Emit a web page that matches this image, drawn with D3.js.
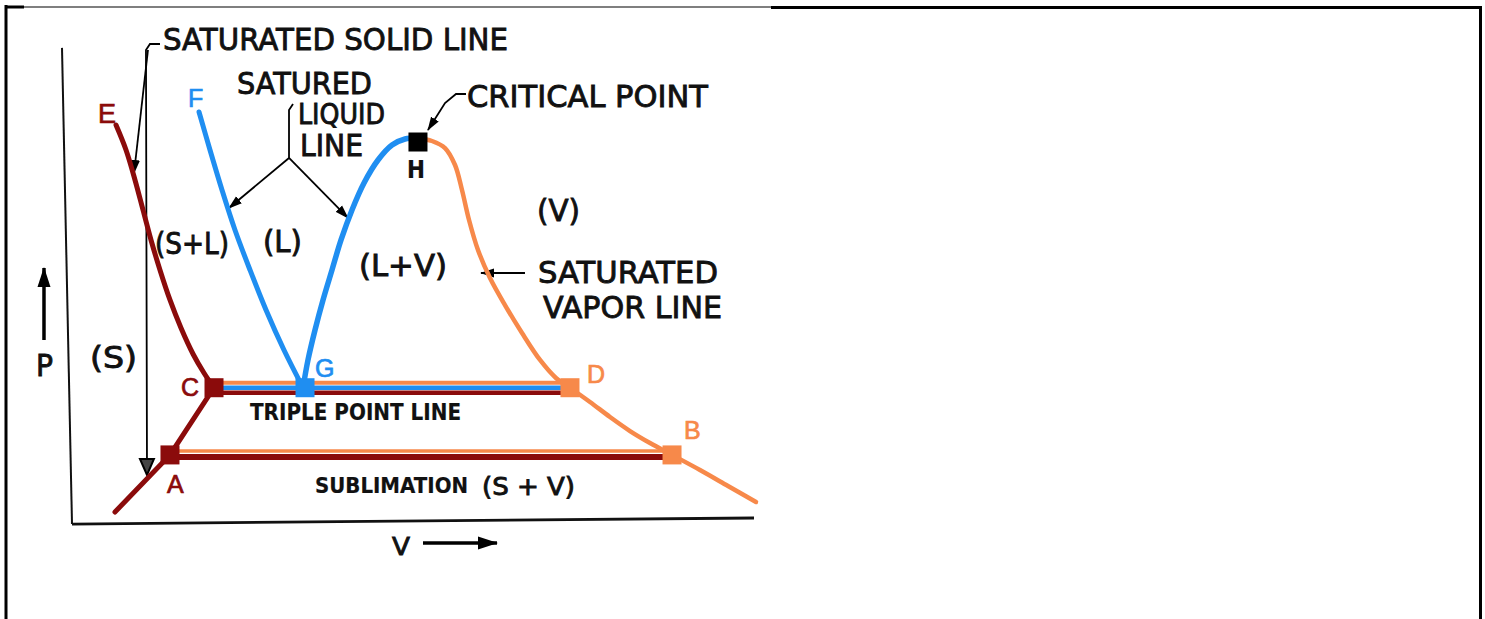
<!DOCTYPE html>
<html><head><meta charset="utf-8">
<script src="https://cdn.jsdelivr.net/npm/d3@7"></script>
<style>html,body{margin:0;padding:0;background:#fff;} svg{display:block}</style>
</head><body><svg id="c" width="1485" height="619"></svg>
<script>
// ---------- DATA (V, P in arbitrary diagram units, 0..100) ----------
const solidV   = [6.67, 8.12, 9.42, 10.58, 11.74, 13.04, 14.49, 16.09, 17.83, 19.42, 20.87];
const solidP   = [83.33, 78.13, 71.88, 65.63, 59.38, 53.13, 46.88, 41.04, 35.63, 31.67, 28.6];
const lowSolidV = [20.87, 14.49, 6.52];
const lowSolidP = [28.6, 14.6, 2.71];
const liquidV  = [18.70, 20.29, 22.03, 23.91, 26.09, 28.41, 31.01, 33.77];
const liquidP  = [86.04, 78.13, 69.79, 61.46, 53.13, 44.79, 36.46, 28.6];
const domeLV   = [33.77, 34.49, 35.51, 36.67, 37.97, 39.28, 40.87, 42.61, 44.64, 46.67, 48.55, 50.43];
const domeLP   = [28.6, 34.38, 40.63, 46.88, 53.13, 59.38, 65.63, 71.25, 76.04, 79.17, 80.42, 80.63];
const vaporV   = [50.43, 52.46, 54.35, 55.80, 56.81, 57.83, 59.13, 60.87, 63.04, 65.51, 68.12, 70.43, 72.46];
const vaporP   = [80.63, 80.0, 78.54, 75.0, 69.79, 63.54, 57.29, 51.46, 45.83, 40.0, 34.38, 30.63, 28.6];
const lowVapV  = [72.46, 75.36, 78.26, 81.16, 84.06, 87.25, 91.30, 95.36, 99.42];
const lowVapP  = [28.6, 25.63, 22.50, 19.58, 17.08, 14.6, 11.46, 8.13, 4.79];
const tripleP  = 28.6;
const tripleV  = [20.87, 72.46];
const sublimP  = 14.6;
const sublimV  = [14.49, 87.25];
const pointNames = ["A", "B", "C", "D", "G", "H"];
const pointV     = [14.49, 87.25, 20.87, 72.46, 34.06, 50.43];
const pointP     = [14.6, 14.6, 28.6, 28.6, 28.6, 79.79];
const pointColor = ["red", "orange", "red", "orange", "blue", "black"];
// letter labels
const letterText = ["E", "F", "C", "G", "D", "B", "A"];
const letterV    = [4.06, 17.10, 16.09, 35.51, 74.93, 88.99, 14.06];
const letterP    = [83.75, 87.08, 26.88, 30.83, 29.58, 17.92, 6.67];
const letterColor = ["red", "blue", "red", "blue", "orange", "orange", "red"];
// annotation texts
const noteText = ["SATURATED SOLID LINE", "SATURED", "LIQUID", "LINE", "CRITICAL POINT", "(V)", "(L+V)",
  "SATURATED", "VAPOR LINE", "(S+L)", "(L)", "(S)", "P", "TRIPLE POINT LINE", "SUBLIMATION", "(S + V)", "V", "H"];
const noteV = [13.48, 24.20, 33.04, 33.33, 57.54, 67.68, 41.88, 67.83, 68.55, 12.32, 27.97, 2.90, -4.93, 26.09, 35.51, 59.71, 46.67, 48.84];
const noteP = [98.96, 89.79, 83.54, 76.88, 87.08, 63.33, 51.88, 50.42, 43.13, 56.46, 56.88, 32.71, 31.04, 21.88, 6.67, 6.25, -6.25, 72.29];
// axes and leaders (V,P pairs)
const yAxisLine = [[-1.16, 99.4], [0.29, 0.2]];
const xAxisLine = [[0.29, 0.2], [99.13, 1.46]];
const leaders = [
  {pts: [[13.04, 100.21], [11.59, 100.21], [11.01, 98.96], [11.16, 10.42]], head: "open"},
  {pts: [[11.30, 98.96], [9.28, 73.33]], head: "fill"},
  {pts: [[32.32, 87.71], [31.74, 86.46], [31.74, 76.46]], head: null},
  {pts: [[31.74, 76.46], [23.04, 66.04]], head: "fill"},
  {pts: [[31.74, 76.46], [40.29, 63.96]], head: "fill"},
  {pts: [[57.39, 89.79], [55.94, 89.79], [54.35, 87.92], [51.88, 82.29]], head: "fill"},
  {pts: [[65.94, 52.5], [59.57, 52.5]], head: "fill"},
  {pts: [[-3.77, 38.54], [-3.77, 53.54]], head: "big"},
  {pts: [[51.16, -3.75], [61.88, -3.75]], head: "big"}
];

// ---------- DRAWING ----------
const COL = {red: "#8b0b0b", blue: "#1f8ef1", orange: "#f7894a", black: "#000"};
const svg = d3.select("#c");
const W = 1485, H = 619;
svg.append("rect").attr("width", W).attr("height", H).attr("fill", "#fff");

// frame
svg.append("line").attr("x1", 6).attr("y1", 5).attr("x2", 6).attr("y2", H).attr("stroke", "#000").attr("stroke-width", 3);
svg.append("line").attr("x1", 5).attr("y1", 7).attr("x2", 24).attr("y2", 7).attr("stroke", "#000").attr("stroke-width", 3);
svg.append("line").attr("x1", 24).attr("y1", 7).attr("x2", 771).attr("y2", 7).attr("stroke", "#000").attr("stroke-width", 1.2);
svg.append("line").attr("x1", 771).attr("y1", 7.5).attr("x2", 1482).attr("y2", 7.5).attr("stroke", "#000").attr("stroke-width", 3);
svg.append("line").attr("x1", 1480.5).attr("y1", 6).attr("x2", 1480.5).attr("y2", H).attr("stroke", "#000").attr("stroke-width", 3);

const x = d3.scaleLinear().domain([0, 100]).range([70, 760]);
const y = d3.scaleLinear().domain([0, 100]).range([525, 45]);

const defs = svg.append("defs");
defs.append("marker").attr("id", "fill").attr("viewBox", "0 -5 14 10").attr("refX", 13).attr("refY", 0)
  .attr("markerWidth", 14).attr("markerHeight", 10).attr("markerUnits", "userSpaceOnUse").attr("orient", "auto")
  .append("path").attr("d", "M0,-4.5L14,0L0,4.5Z").attr("fill", "#000");
defs.append("marker").attr("id", "big").attr("viewBox", "0 -7 20 14").attr("refX", 19).attr("refY", 0)
  .attr("markerWidth", 20).attr("markerHeight", 14).attr("markerUnits", "userSpaceOnUse").attr("orient", "auto")
  .append("path").attr("d", "M0,-6.5L20,0L0,6.5Z").attr("fill", "#000");
defs.append("marker").attr("id", "open").attr("viewBox", "-1 -9 19 18").attr("refX", 16).attr("refY", 0)
  .attr("markerWidth", 19).attr("markerHeight", 18).attr("markerUnits", "userSpaceOnUse").attr("orient", "auto")
  .append("path").attr("d", "M0,-7L16,0L0,7Z").attr("fill", "#444").attr("stroke", "#000").attr("stroke-width", 2);

const lin = d3.line().x(d => x(d[0])).y(d => y(d[1]));
const smooth = d3.line().x(d => x(d[0])).y(d => y(d[1])).curve(d3.curveCatmullRom.alpha(0.5));

// axes
svg.append("path").attr("d", lin(yAxisLine)).attr("stroke", "#111").attr("stroke-width", 2).attr("fill", "none");
svg.append("path").attr("d", lin(xAxisLine)).attr("stroke", "#111").attr("stroke-width", 2.8).attr("fill", "none");

// leaders
leaders.forEach(l => {
  const p = svg.append("path").attr("d", lin(l.pts)).attr("stroke", "#000")
    .attr("stroke-width", l.head === "big" ? 3.5 : 1.8).attr("fill", "none");
  if (l.head) p.attr("marker-end", `url(#${l.head})`);
});

// triple point line: three stacked strokes
const tri = [[tripleV[0], tripleP], [tripleV[1], tripleP]];
svg.append("path").attr("d", lin(tri)).attr("transform", "translate(0,-5)").attr("stroke", COL.orange).attr("stroke-width", 4).attr("fill", "none");
svg.append("path").attr("d", lin(tri)).attr("transform", "translate(0,5)").attr("stroke", COL.red).attr("stroke-width", 4.5).attr("fill", "none");
svg.append("path").attr("d", lin(tri)).attr("stroke", COL.blue).attr("stroke-width", 4.5).attr("fill", "none");

// sublimation line
const sub = [[sublimV[0], sublimP], [sublimV[1], sublimP]];
svg.append("path").attr("d", lin(sub)).attr("transform", "translate(0,-4)").attr("stroke", COL.orange).attr("stroke-width", 3.5).attr("fill", "none");
svg.append("path").attr("d", lin(sub)).attr("transform", "translate(0,2)").attr("stroke", COL.red).attr("stroke-width", 6).attr("fill", "none");

// curves
svg.append("path").attr("d", smooth(d3.zip(solidV, solidP))).attr("stroke", COL.red).attr("stroke-width", 5).attr("fill", "none").attr("stroke-linecap", "round");
svg.append("path").attr("d", lin(d3.zip(lowSolidV, lowSolidP))).attr("stroke", COL.red).attr("stroke-width", 5).attr("fill", "none").attr("stroke-linecap", "round");
svg.append("path").attr("d", smooth(d3.zip(liquidV, liquidP))).attr("stroke", COL.blue).attr("stroke-width", 5).attr("fill", "none").attr("stroke-linecap", "round");
svg.append("path").attr("d", smooth(d3.zip(domeLV, domeLP))).attr("stroke", COL.blue).attr("stroke-width", 5.5).attr("fill", "none").attr("stroke-linecap", "round");
svg.append("path").attr("d", smooth(d3.zip(vaporV, vaporP))).attr("stroke", COL.orange).attr("stroke-width", 4.5).attr("fill", "none").attr("stroke-linecap", "round");
svg.append("path").attr("d", smooth(d3.zip(lowVapV, lowVapP))).attr("stroke", COL.orange).attr("stroke-width", 4.5).attr("fill", "none").attr("stroke-linecap", "round");

// point squares
const sq = 19;
svg.selectAll("rect.pt").data(d3.range(pointNames.length)).join("rect").attr("class", "pt")
  .attr("x", i => x(pointV[i]) - sq / 2).attr("y", i => y(pointP[i]) - sq / 2)
  .attr("width", sq).attr("height", sq).attr("fill", i => COL[pointColor[i]]);

// letter labels
svg.selectAll("text.let").data(d3.range(letterText.length)).join("text").attr("class", "let")
  .attr("x", i => x(letterV[i])).attr("y", i => y(letterP[i]))
  .attr("font-family", "Liberation Sans, Arial, sans-serif").attr("font-size", i => i === 0 ? 27 : 25)
  .attr("fill", i => COL[letterColor[i]]).attr("stroke", i => COL[letterColor[i]]).attr("stroke-width", 0.7)
  .text(i => letterText[i]);

// annotation texts
const noteW    = [345, 135, 87, 63, 241, 43, 88, 180, 179, 74, 39, 47, 17, 211, 153, 93, 18, 18];
const noteSize = [31, 31, 28, 30, 31, 31, 30, 31, 31, 30, 30, 31, 30, 23, 22, 25, 25, 25];
const noteBold = [0, 0, 0, 0, 0, 0, 0, 0, 0, 0, 0, 0, 0, 1, 1, 0, 0, 1];
svg.selectAll("text.note").data(d3.range(noteText.length)).join("text").attr("class", "note")
  .attr("x", i => x(noteV[i])).attr("y", i => y(noteP[i]))
  .attr("font-family", "DejaVu Sans, sans-serif").attr("font-size", i => noteSize[i])
  .attr("font-weight", i => noteBold[i] ? "bold" : "normal")
  .attr("fill", "#111").attr("stroke", "#111").attr("stroke-width", i => noteBold[i] ? 0.2 : 0.9)
  .attr("textLength", i => noteW[i]).attr("lengthAdjust", "spacingAndGlyphs")
  .text(i => noteText[i]);
</script></body></html>
